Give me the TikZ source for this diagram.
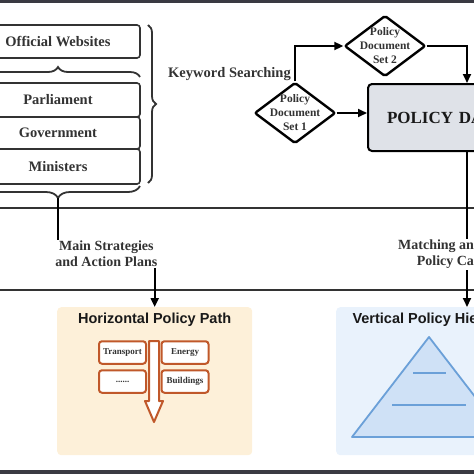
\documentclass[tikz,border=0pt]{standalone}
\usepackage{fontspec}
\setmainfont{Liberation Serif}
\newfontfamily\headfont{Liberation Sans}
\usepackage{tikz}
\usetikzlibrary{shapes.geometric,arrows.meta,decorations.pathreplacing}
\usepackage{xcolor}
\definecolor{ink}{HTML}{333333}
\definecolor{band}{HTML}{3A3A42}
\definecolor{dbgray}{HTML}{DFE2E8}
\definecolor{peach}{HTML}{FDF0D9}
\definecolor{rust}{HTML}{C0582A}
\definecolor{skyfill}{HTML}{E9F2FC}
\definecolor{pyrfill}{HTML}{CFE1F6}
\definecolor{pyrline}{HTML}{6BA0D8}

\begin{document}
\begin{tikzpicture}[x=1pt,y=-1pt,
  srcbox/.style={draw=ink, line width=1.6pt, rounded corners=3pt, fill=white, minimum width=164pt, inner sep=0pt, text=ink, font=\bfseries\fontsize{14.5}{16}\selectfont},
  brc/.style={draw=ink, line width=1.8pt, decorate, decoration={brace, amplitude=#1}},
  dia/.style={diamond, draw, line width=2.4pt, fill=white, rounded corners=2pt, minimum width=81pt, minimum height=61pt, inner sep=0pt},
  dtxt/.style={align=center, text=ink, font=\bfseries\fontsize{11.5}{14}\selectfont},
  conn/.style={line width=2pt, -{Triangle[length=9pt,width=8pt]}},
  lbl/.style={fill=white, inner sep=1pt, text=ink, font=\bfseries\fontsize{14}{16}\selectfont},
  sep/.style={draw=ink, line width=2pt},
  catbox/.style={draw=rust, line width=2pt, rounded corners=3pt, fill=white, minimum width=47pt, minimum height=22.5pt, inner sep=0pt, text=ink, font=\bfseries\fontsize{9}{10}\selectfont},
  ttl/.style={text=black!90, font=\headfont\bfseries\fontsize{14.5}{16}\selectfont}]
\useasboundingbox (0,0) rectangle (474,474);
\clip (0,0) rectangle (474,474);
% bands and separators
\fill[band] (0,0) rectangle (474,3);
\fill[band] (0,470) rectangle (474,474);
\draw[sep] (0,208) -- (474,208);
\draw[sep] (0,290) -- (474,290);
% sources
\node[srcbox, minimum height=33pt] (web) at (58,41.5) {Official Websites};
\node[srcbox, minimum height=34pt] (parl) at (58,100) {Parliament};
\node[srcbox, minimum height=32pt] (gov) at (58,133) {Government};
\node[srcbox, minimum height=35pt] (mins) at (58,166.5) {Ministers};
\draw[brc=10pt] (-24,77) -- (140,77);
\draw[brc=12pt] (140,186) -- (-24,186);
\draw[brc=8pt] (148,25) -- (148,183);
\coordinate (mintip) at (58,198);
\node[text=ink, font=\bfseries\fontsize{14.5}{16}\selectfont] (kw) at (229.5,74) {Keyword Searching};
% document sets
\node[dia, label={[dtxt]center:{Policy\\Document\\Set 1}}] (set1) at (295,113) {};
\node[dia, label={[dtxt]center:{Policy\\Document\\Set 2}}] (set2) at (385,46) {};
\node[draw, line width=2pt, fill=dbgray, rounded corners=4pt, anchor=north west, minimum height=67pt, text width=200pt, align=left, inner xsep=19pt, font=\bfseries\fontsize{17}{20}\selectfont, text=black!90] (db) at (367,83) {POLICY DA};
\coordinate (col) at (467,0);
% paths
\node[fill=peach, rounded corners=4pt, minimum width=195pt, minimum height=148pt, anchor=north west,
  label={[ttl, anchor=center, yshift=-13pt]north:Horizontal Policy Path}] (horiz) at (57,307) {};
\node[fill=skyfill, rounded corners=4pt, minimum width=260pt, minimum height=148pt, anchor=north west,
  label={[ttl, anchor=west, xshift=13pt, yshift=-13pt]north west:Vertical Policy Hie}] (vert) at (336,307) {};
\draw[conn] (set1.north) |- (set2.west);
\draw[conn] (set2.east) -| (col |- db.north);
\draw[conn] (set1.east) -- (set1.east -| db.west);
\draw[conn] (mintip) -- ++(0,56) -| node[lbl, pos=0.25, align=center] {Main Strategies\\and Action Plans} (horiz.north);
\draw[conn] (col |- db.south) -- node[lbl, pos=0.66, anchor=east, xshift=9pt, align=right] {Matching an\\Policy Ca} (col |- vert.north);
% horizontal path contents
\node[catbox] (trans) at (122.5,352.5) {Transport};
\node[catbox] (energy) at (185,352.5) {Energy};
\node[catbox] (more) at (122.5,381.5) {......};
\node[catbox] (build) at (185,381.5) {Buildings};
\filldraw[draw=rust, fill=white, line width=2pt, line join=round] (149,341) -- (159,341) -- (159,401) -- (163,401) -- (154,422) -- (145,401) -- (149,401) -- cycle;
% vertical hierarchy
\filldraw[draw=pyrline, fill=pyrfill, line width=1.8pt, line join=round] (429,337) -- (352,437) -- (506,437) -- cycle;
\draw[pyrline, line width=1.8pt] (413,373) -- (446,373);
\draw[pyrline, line width=1.8pt] (392,405) -- (466,405);
\end{tikzpicture}
\end{document}
